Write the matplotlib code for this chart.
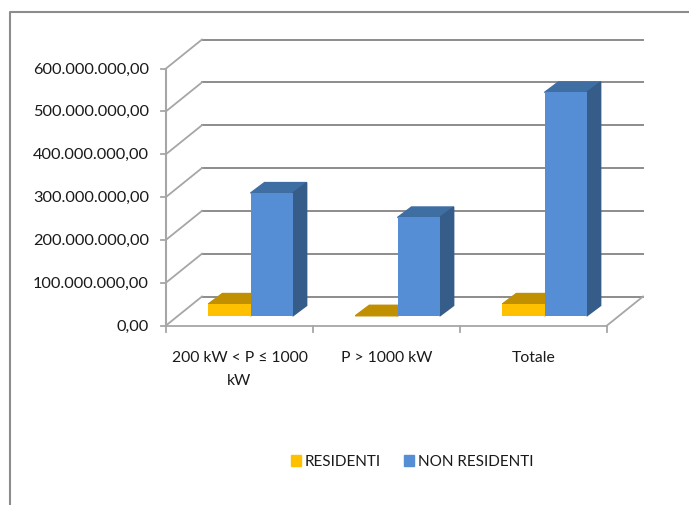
import matplotlib
matplotlib.use("Agg")
import matplotlib.pyplot as plt
from matplotlib.patches import Rectangle
from matplotlib.transforms import ScaledTranslation

categories = ["200 kW < P ≤ 1000\nkW", "P > 1000 kW", "Totale"]
residenti = [28000000, 500000, 28000000]
non_residenti = [287000000, 230000000, 522000000]
y_ticks = [0, 100000000, 200000000, 300000000, 400000000, 500000000, 600000000]
y_labels = ["0,00", "100.000.000,00", "200.000.000,00", "300.000.000,00",
            "400.000.000,00", "500.000.000,00", "600.000.000,00"]

plt.rcParams['font.family'] = ['Lato', 'DejaVu Sans']

W, H = 689, 505
fig = plt.figure(figsize=(W / 100, H / 100), dpi=100)
ax = fig.add_axes([166 / W, 1 - 325.5 / H, 441 / W, 257 / H])
ax.set_xlim(0, 3)
ax.set_ylim(0, 600000000)
ax.axis("off")


def shifted(dx, dy):
    # depth of the fake 3d box, given in pixels
    return ax.transData + ScaledTranslation(dx / 100, dy / 100, fig.dpi_scale_trans)


grid_color = "#8c8c8c"
wall_color = "#a6a6a6"
text_color = "#1a1a1a"

# floor first, everything else goes on top
x0, y0 = ax.transData.transform((0, 0))
x3, _ = ax.transData.transform((3, 0))
_, ytop = ax.transData.transform((0, 600000000))
ax.fill([x0, x3, x3 + 36, x0 + 36], [y0, y0, y0 + 29, y0 + 29], color="white", transform=None, clip_on=False, zorder=0.5)

back = shifted(36, 29)
for t, lab in zip(y_ticks, y_labels):
    # side wall and back wall
    ax.plot([0, 3], [t, t], color=grid_color, lw=1.4, transform=back, clip_on=False, zorder=1)
    xt, yt = ax.transData.transform((0, t))
    ax.plot([xt, xt + 36], [yt, yt + 29], color=wall_color, lw=1.3, transform=None, clip_on=False, zorder=1)
    ax.plot([xt - 5, xt], [yt, yt], color=wall_color, lw=1.3, transform=None, clip_on=False, zorder=1)
    ax.text(xt - 17, yt - 1, lab, ha="right", va="center", fontsize=11.8, color=text_color, transform=None)

# axis lines and floor edge
ax.plot([x0, x0], [y0, ytop], color=wall_color, lw=1.5, transform=None, clip_on=False, zorder=1)
ax.plot([x0, x3], [y0, y0], color=wall_color, lw=1.3, transform=None, clip_on=False, zorder=1)
ax.plot([x3, x3 + 36], [y0, y0 + 29], color=wall_color, lw=1.3, transform=None, clip_on=False, zorder=1)
for i in range(4):
    tx, _ = ax.transData.transform((i, 0))
    ax.plot([tx, tx], [y0, y0 - 6], color=wall_color, lw=1.3, transform=None, clip_on=False, zorder=1)

# bars, front face sits 11 px into the floor
bar_w = 0.287
front = shifted(11, 9.5)


def draw_bar(xc, value, face, top, side):
    x_l = xc - bar_w / 2
    x_r = xc + bar_w / 2
    d = shifted(25, 20)
    ax.bar(xc, value, bar_w, color=face, transform=front, clip_on=False, zorder=3)
    pts = [front.transform((x_l, value)), front.transform((x_r, value)),
           d.transform((x_r, value)), d.transform((x_l, value))]
    ax.fill([p[0] for p in pts], [p[1] for p in pts], color=top, transform=None, clip_on=False, zorder=2.5)
    pts = [front.transform((x_r, 0)), front.transform((x_r, value)),
           d.transform((x_r, value)), d.transform((x_r, 0))]
    ax.fill([p[0] for p in pts], [p[1] for p in pts], color=side, transform=None, clip_on=False, zorder=2.5)


for i in range(3):
    draw_bar(i + 0.5 - bar_w / 2, residenti[i], "#ffc000", "#c09000", "#c09000")
    draw_bar(i + 0.5 + bar_w / 2, non_residenti[i], "#558ed5", "#3f6ea3", "#365c8a")

for i, c in enumerate(categories):
    tx, _ = ax.transData.transform((i + 0.5, 0))
    ax.text(tx, y0 - 25, c, ha="center", va="top", fontsize=11.3, color=text_color,
            linespacing=1.85, transform=None)

# legend
ax.add_patch(Rectangle((291, H - 466), 10, 11, color="#ffc000", transform=None, clip_on=False))
ax.text(305, H - 461.5, "RESIDENTI", va="center", fontsize=11, color=text_color, transform=None)
ax.add_patch(Rectangle((404, H - 466), 10, 11, color="#558ed5", transform=None, clip_on=False))
ax.text(418, H - 461.5, "NON RESIDENTI", va="center", fontsize=11, color=text_color, transform=None)

# outer frame, only left and top are inside the picture
fig.add_artist(plt.Line2D([10 / W, 10 / W, 1], [0, 1 - 12 / H, 1 - 12 / H],
                          color="#8c8c8c", lw=1.5))

fig.savefig("out.png", dpi=100)
